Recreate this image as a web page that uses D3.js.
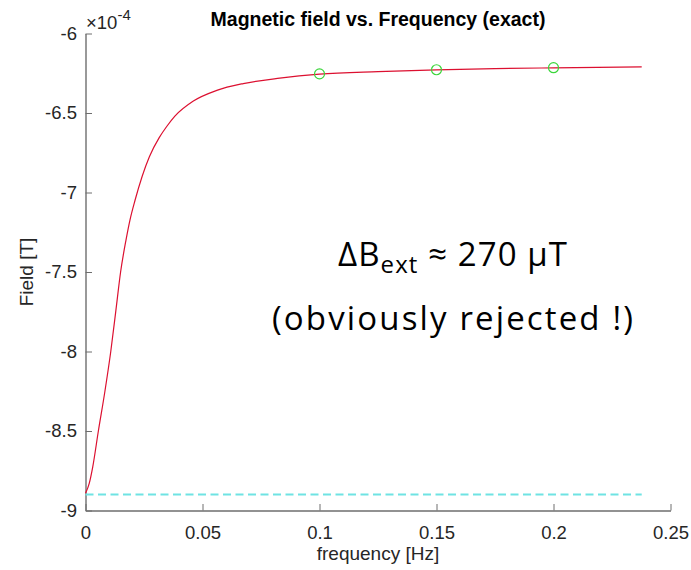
<!DOCTYPE html>
<html>
<head>
<meta charset="utf-8">
<script src="https://cdn.jsdelivr.net/npm/d3@7"></script>
<style>
	body { margin: 0; background: #fff; }
	svg { display: block; font-family: 'Liberation Sans', Arial, sans-serif; }
	.axis text { font-size: 18.5px; fill: #262626; }
	.axis path, .axis line { stroke: #6e6e6e; }
	.title { font-size: 19.5px; font-weight: bold; fill: #000; }
	.label { font-size: 19px; fill: #262626; }
	.note { font-family: 'Open Sans', 'Noto Sans', sans-serif; font-size: 33px; fill: #000; }
</style>
</head>
<body>
<div id="chart"></div>
<script>
// curve (frequency in Hz, field in T)
const freq = [0, 0.0016, 0.0031, 0.0055, 0.0083, 0.0108, 0.013, 0.015, 0.0173, 0.019, 0.0212, 0.0273, 0.0315, 0.0347, 0.0382, 0.0461, 0.0561, 0.0674, 0.083, 0.1, 0.125, 0.15, 0.175, 0.2, 0.2377];
const field = [-8.892e-4, -8.829e-4, -8.725e-4, -8.5e-4, -8.25e-4, -8.0e-4, -7.74e-4, -7.5e-4, -7.299e-4, -7.173e-4, -7.047e-4, -6.775e-4, -6.655e-4, -6.585e-4, -6.52e-4, -6.425e-4, -6.358e-4, -6.315e-4, -6.281e-4, -6.256e-4, -6.24e-4, -6.229e-4, -6.221e-4, -6.216e-4, -6.21e-4];

// sampled points (green circles)
const markFreq = [0.1, 0.15, 0.2];
const markField = [-6.254e-4, -6.228e-4, -6.215e-4];

// reference level (dashed cyan)
const refFreq = [0, 0.2377];
const refField = -8.9e-4;

const xTicks = [0, 0.05, 0.1, 0.15, 0.2, 0.25];
const yTicks = [-6e-4, -6.5e-4, -7e-4, -7.5e-4, -8e-4, -8.5e-4, -9e-4];

const width = 691;
const height = 570;
const marginLeft = 85.5;
const marginRight = 20.5;
const marginTop = 33.5;
const marginBottom = 59.5;

const $svg = d3.select('#chart').append('svg')
	.attr('width', width)
	.attr('height', height);

// scales
const scaleX = d3.scaleLinear()
	.domain([0, 0.25])
	.range([marginLeft, width - marginRight]);

const scaleY = d3.scaleLinear()
	.domain([-9e-4, -6e-4])
	.range([height - marginBottom, marginTop]);

// axes, ticks point inward like matlab
const xAxis = d3.axisBottom(scaleX)
	.tickValues(xTicks)
	.tickFormat(d => d3.format('~g')(d))
	.tickSizeInner(-6.5)
	.tickSizeOuter(0)
	.tickPadding(15);

const yAxis = d3.axisLeft(scaleY)
	.tickValues(yTicks)
	.tickFormat(d => String(+(d * 1e4).toFixed(1)))
	.tickSizeInner(-6.5)
	.tickSizeOuter(0)
	.tickPadding(8.5);

$svg.append('g')
	.attr('class', 'x axis')
	.attr('transform', `translate(0,${height - marginBottom})`)
	.call(xAxis)
	.call(g => g.select('.domain').attr('stroke-width', 1.4));

$svg.append('g')
	.attr('class', 'y axis')
	.attr('transform', `translate(${marginLeft},0)`)
	.call(yAxis)
	.call(g => g.select('.domain').attr('stroke-width', 1.4));

// remove default axis font so css wins
$svg.selectAll('.axis').attr('font-family', null).attr('font-size', null);

// exponent label
const $exp = $svg.append('text')
	.attr('class', 'label')
	.attr('x', marginLeft + 0.5)
	.attr('y', 29)
	.style('font-size', '18.5px');
$exp.append('tspan').text('\u00d710');
$exp.append('tspan').attr('dy', -9).style('font-size', '15px').text('-4');

// dashed reference
const line = d3.line()
	.x(d => scaleX(d[0]))
	.y(d => scaleY(d[1]));

$svg.append('path')
	.datum(refFreq.map(f => [f, refField]))
	.attr('d', line)
	.attr('fill', 'none')
	.attr('stroke', '#6fe3e3')
	.attr('stroke-width', 2)
	.attr('stroke-dasharray', '8,4.5');

// main curve
$svg.append('path')
	.datum(freq.map((f, i) => [f, field[i]]))
	.attr('d', line.curve(d3.curveMonotoneX))
	.attr('fill', 'none')
	.attr('stroke', '#dc1030')
	.attr('stroke-width', 1.2);

// circles
$svg.selectAll('.mark')
	.data(markFreq.map((f, i) => [f, markField[i]]))
	.enter().append('circle')
	.attr('class', 'mark')
	.attr('cx', d => scaleX(d[0]))
	.attr('cy', d => scaleY(d[1]))
	.attr('r', 5)
	.attr('fill', 'none')
	.attr('stroke', '#3bd63b')
	.attr('stroke-width', 1.2);

// title and axis labels
$svg.append('text')
	.attr('class', 'title')
	.attr('x', (marginLeft + width - marginRight) / 2)
	.attr('y', 26)
	.attr('text-anchor', 'middle')
	.text('Magnetic field vs. Frequency (exact)');

$svg.append('text')
	.attr('class', 'label')
	.attr('x', (marginLeft + width - marginRight) / 2)
	.attr('y', 560)
	.attr('text-anchor', 'middle')
	.text('frequency [Hz]');

$svg.append('text')
	.attr('class', 'label')
	.attr('transform', `translate(33,${(marginTop + height - marginBottom) / 2}) rotate(-90)`)
	.attr('text-anchor', 'middle')
	.text('Field [T]');

// annotation
const $note = $svg.append('text')
	.attr('class', 'note')
	.attr('x', 338)
	.attr('y', 266)
	.attr('textLength', 229)
	.attr('lengthAdjust', 'spacing');
$note.append('tspan').text('\u0394B');
$note.append('tspan').attr('dy', 7).style('font-size', '24px').text('ext');
$note.append('tspan').attr('dy', -7).text(' \u2248 270 \u03bcT');

$svg.append('text')
	.attr('class', 'note')
	.attr('x', 272)
	.attr('y', 330)
	.attr('textLength', 361)
	.attr('lengthAdjust', 'spacing')
	.text('(obviously rejected !)');
</script>
</body>
</html>
